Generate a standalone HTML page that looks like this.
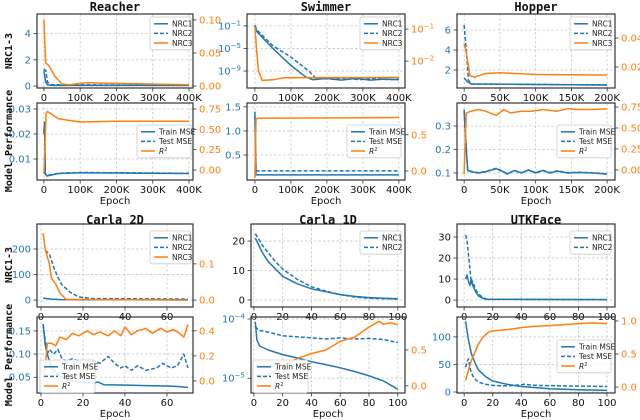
<!DOCTYPE html>
<html><head><meta charset="utf-8"><style>
html,body{margin:0;padding:0;background:#fff;}
svg{display:block;font-family:"DejaVu Sans","Liberation Sans",sans-serif;}
</style></head><body>
<svg id="fig" width="640" height="420" viewBox="0 0 640 420" xmlns="http://www.w3.org/2000/svg"></svg>
<script>
// ---------- DATA ----------
const K = 1000;
// Reacher NRC
const reacherNrc1X=[0,2*K,5*K,10*K,20*K,400*K], reacherNrc1Y=[1.2,0.8,0.3,0.1,0.05,0.05];
const reacherNrc2X=[0,5*K,10*K,20*K,400*K], reacherNrc2Y=[1.3,1.2,0.3,0.1,0.05];
const reacherNrc3X=[0,3*K,5*K,15*K,30*K,50*K,70*K,100*K,120*K,200*K,400*K], reacherNrc3Y=[0.1,0.06,0.035,0.03,0.015,0.003,0.002,0.004,0.005,0.004,0.002];
// Reacher performance
const reacherTrainX=[0,2*K,4*K,8*K,40*K,100*K,400*K], reacherTrainY=[0.02,0.024,0.004,0.0032,0.0042,0.0045,0.0042];
const reacherTestX=[0,2*K,4*K,8*K,40*K,100*K,400*K], reacherTestY=[0.021,0.025,0.0042,0.0034,0.0043,0.0046,0.0043];
const reacherR2X=[0,3*K,6*K,10*K,40*K,100*K,200*K,400*K], reacherR2Y=[-0.05,0.3,0.7,0.72,0.63,0.59,0.6,0.6];
// Swimmer NRC
const swimNrc1X=[0,5*K,50*K,100*K,140*K,160*K,200*K,240*K,280*K,320*K,360*K,400*K], swimNrc1Y=[1e-1,1e-2,1e-5,1e-8,1e-10,3e-11,5e-11,2.5e-11,5e-11,2.5e-11,4e-11,3e-11];
const swimNrc2X=[0,5*K,50*K,100*K,150*K,170*K,210*K,250*K,290*K,330*K,370*K,400*K], swimNrc2Y=[1.3e-1,2e-2,3e-5,3e-7,1e-9,5e-11,4e-11,6e-11,3e-11,5e-11,3e-11,4e-11];
const swimNrc3X=[0,5*K,10*K,20*K,50*K,80*K,400*K], swimNrc3Y=[0.12,0.02,0.005,0.0025,0.0026,0.003,0.0031];
// Swimmer performance
const swimTrainX=[0,3*K,400*K], swimTrainY=[1.4,0.085,0.085];
const swimTestX=[0,3*K,400*K], swimTestY=[1.3,0.17,0.17];
const swimR2X=[0,3*K,10*K,400*K], swimR2Y=[-0.1,0.72,0.73,0.74];
// Hopper NRC
const hopNrc1X=[0,5*K,10*K,200*K], hopNrc1Y=[1.2,0.8,0.6,0.5];
const hopNrc2X=[0,3*K,6*K,10*K,200*K], hopNrc2Y=[6.5,4,1,0.6,0.5];
const hopNrc3X=[0,3*K,8*K,15*K,30*K,50*K,100*K,200*K], hopNrc3Y=[0.036,0.03,0.014,0.013,0.0155,0.016,0.0148,0.0145];
// Hopper performance
const hopTrainX=[0,3*K,5*K,10*K,20*K,30*K,45*K,55*K,60*K,70*K,80*K,90*K,100*K,110*K,120*K,130*K,145*K,160*K,180*K,200*K];
const hopTrainY=[0.37,0.2,0.11,0.105,0.1,0.105,0.118,0.105,0.095,0.11,0.1,0.112,0.1,0.11,0.1,0.108,0.1,0.102,0.1,0.095];
const hopTestX=[0,3*K,5*K,10*K,20*K,30*K,45*K,55*K,60*K,70*K,80*K,90*K,100*K,110*K,120*K,130*K,145*K,160*K,180*K,200*K];
const hopTestY=[0.36,0.2,0.112,0.106,0.101,0.106,0.12,0.106,0.096,0.111,0.101,0.113,0.101,0.111,0.101,0.109,0.101,0.103,0.101,0.096];
const hopR2X=[0,3*K,10*K,20*K,30*K,45*K,55*K,65*K,80*K,95*K,110*K,130*K,145*K,160*K,180*K,200*K];
const hopR2Y=[-0.05,0.68,0.7,0.72,0.7,0.65,0.72,0.68,0.7,0.7,0.72,0.7,0.73,0.72,0.72,0.73];
// Carla 2D NRC
const c2Nrc1X=[1,5,10,70], c2Nrc1Y=[8,4,2,1];
const c2Nrc2X=[2,4,6,8,10,14,18,25,70], c2Nrc2Y=[195,180,130,90,60,30,12,6,4];
const c2Nrc3X=[1,2,4,5,7,9,12,70], c2Nrc3Y=[0.185,0.14,0.1,0.06,0.045,0.02,0.002,0.0];
// Carla 2D performance
const c2TrainX=[1,2,3,5,8,12,18,25,27,30,40,50,60,65,70], c2TrainY=[0.165,0.12,0.1,0.07,0.055,0.045,0.04,0.037,0.04,0.034,0.033,0.032,0.031,0.03,0.028];
const c2TestX=[1,2,3,4,6,8,10,12,15,18,20,25,28,32,35,38,40,43,46,50,55,58,62,65,68,70];
const c2TestY=[0.165,0.13,0.1,0.11,0.1,0.11,0.09,0.085,0.09,0.085,0.08,0.085,0.08,0.095,0.08,0.07,0.075,0.065,0.075,0.065,0.07,0.08,0.07,0.075,0.1,0.07];
const c2R2X=[1,2,3,5,7,9,12,15,18,22,25,28,32,35,38,40,43,46,50,53,57,60,63,66,68,70];
const c2R2Y=[0.0,0.1,0.3,0.3,0.28,0.35,0.33,0.38,0.36,0.4,0.37,0.39,0.36,0.4,0.36,0.43,0.37,0.4,0.42,0.38,0.42,0.39,0.41,0.38,0.35,0.45];
// Carla 1D NRC
const c1Nrc1X=[1,3,6,10,15,20,30,40,50,60,70,80,100], c1Nrc1Y=[21,19,16,13,10.5,8,5.5,3.8,2.8,1.8,1.2,0.8,0.4];
const c1Nrc2X=[1,3,6,10,15,20,30,40,50,60,70,80,100], c1Nrc2Y=[22.5,21,18.5,16,13,10.5,7,4.5,3,1.8,1.0,0.6,0.3];
// Carla 1D performance
const c1TrainX=[1,2,4,10,20,30,40,50,60,70,80,90,100], c1TrainY=[9e-5,4.5e-5,3.5e-5,3e-5,2.5e-5,2.2e-5,1.9e-5,1.7e-5,1.5e-5,1.3e-5,1.1e-5,9e-6,6.5e-6];
const c1TestX=[1,3,10,20,30,40,50,60,70,80,90,100], c1TestY=[7.5e-5,6.5e-5,6e-5,5.2e-5,5e-5,4.8e-5,4.6e-5,4.8e-5,4.6e-5,4.7e-5,4.5e-5,4e-5];
const c1R2X=[1,5,10,20,30,40,50,60,70,80,87,90,95,100], c1R2Y=[-0.02,0.1,0.15,0.28,0.38,0.45,0.5,0.62,0.68,0.82,0.9,0.86,0.88,0.85];
// UTKFace NRC
const utkNrc1X=[1,2,3,4,5,6,8,10,13,16,100], utkNrc1Y=[10,12,9,7,10,7,4,2,0.8,0.3,0.2];
const utkNrc2X=[1,2,3,4,5,6,8,10,13,16,100], utkNrc2Y=[31,28,22,15,8,9,5,3,1.2,0.4,0.2];
// UTKFace performance
const utkTrainX=[1,3,5,8,10,15,20,30,40,60,80,100], utkTrainY=[128,95,70,50,40,28,20,14,10,6,4,3];
const utkTestX=[1,2,3,4,5,7,10,15,20,30,40,42,50,70,100], utkTestY=[45,55,60,45,35,25,18,14,12,11,13,14,12,11,10];
const utkR2X=[1,3,5,8,10,13,17,20,30,40,50,60,80,90,100], utkR2Y=[0.1,0.25,0.4,0.55,0.65,0.75,0.83,0.85,0.87,0.9,0.92,0.93,0.96,0.97,0.96];

// Tick arrays
const xTicks400K=[0,100*K,200*K,300*K,400*K], xLabels400K=["0","100K","200K","300K","400K"];
const xTicks200K=[0,50*K,100*K,150*K,200*K], xLabels200K=["0","50K","100K","150K","200K"];
const xTicks70=[0,20,40,60], xLabels70=["0","20","40","60"];
const xTicks100=[0,20,40,60,80,100], xLabels100=["0","20","40","60","80","100"];

// ---------- RENDER ----------
const BLUE="#1f77b4", ORANGE="#ff7f0e";
const NS="http://www.w3.org/2000/svg";
const svg=document.getElementById('fig');
function el(tag,attrs,parent){const e=document.createElementNS(NS,tag);for(const k in attrs)e.setAttribute(k,attrs[k]);(parent||svg).appendChild(e);return e;}
function mkScale(lim,p0,p1,log){const f=log?Math.log10:(v=>v);const a=f(lim[0]),b=f(lim[1]);return v=>p0+(f(v)-a)/(b-a)*(p1-p0);}
function setLabel(t,lab){ // lab may be string or [base,exp]
  if(Array.isArray(lab)){t.textContent=lab[0];const s=el('tspan',{'font-size':'7','dy':'-4'},t);s.textContent=lab[1];}
  else t.textContent=lab;
}
function drawPanel(p){
  const g=el('g',{});
  
  
  const sx=mkScale(p.xlim,p.x0,p.x1,false);
  const syL=mkScale(p.left.lim,p.y1,p.y0,p.left.log);
  const syR=p.right?mkScale(p.right.lim,p.y1,p.y0,p.right.log):null;
  // grid
  p.xticks.forEach(v=>{const X=sx(v);el('line',{x1:X,x2:X,y1:p.y0,y2:p.y1,stroke:'#c8c8c8','stroke-width':0.8,'stroke-dasharray':'2.5,2'},g);});
  p.left.ticks.forEach(v=>{const Y=syL(v);el('line',{x1:p.x0,x2:p.x1,y1:Y,y2:Y,stroke:'#c8c8c8','stroke-width':0.8,'stroke-dasharray':'2.5,2'},g);});
  // series
  p.series.forEach(s=>{
    const sy=s.axis==='r'?syR:syL;
    const pts=s.x.map((xv,i)=>sx(xv).toFixed(1)+','+sy(s.y[i]).toFixed(1)).join(' ');
    const l=el('polyline',{points:pts,fill:'none',stroke:s.color,'stroke-width':1.5,'stroke-linejoin':'round','clip-path':'url(#clip-'+p.id+')'},g);
    if(s.dash)l.setAttribute('stroke-dasharray','4,2');
    
    
  });
  const cp=el('clipPath',{id:'clip-'+p.id},g);el('rect',{x:p.x0,y:p.y0,width:p.x1-p.x0,height:p.y1-p.y0},cp);
  // frame
  const fr=el('rect',{x:p.x0,y:p.y0,width:p.x1-p.x0,height:p.y1-p.y0,fill:'none',stroke:'#333','stroke-width':1.2},g);
  
  
  // x ticks
  p.xticks.forEach((v,i)=>{const X=sx(v);el('line',{x1:X,x2:X,y1:p.y1,y2:p.y1+3.5,stroke:'#333','stroke-width':0.8},g);
    const t=el('text',{x:X,y:p.y1+13,'font-size':'10','text-anchor':'middle',fill:'#111'},g);t.textContent=p.xlabels[i];
    
    });
  // left ticks
  p.left.ticks.forEach((v,i)=>{const Y=syL(v);el('line',{x1:p.x0-3.5,x2:p.x0,y1:Y,y2:Y,stroke:'#333','stroke-width':0.8},g);
    const t=el('text',{x:p.x0-6,y:Y+3.5,'font-size':'10','text-anchor':'end',fill:p.left.color},g);setLabel(t,p.left.labels[i]);
    
    });
  if(p.right){p.right.ticks.forEach((v,i)=>{const Y=syR(v);el('line',{x1:p.x1,x2:p.x1+3.5,y1:Y,y2:Y,stroke:'#333','stroke-width':0.8},g);
    const t=el('text',{x:p.x1+6,y:Y+3.5,'font-size':'10','text-anchor':'start',fill:ORANGE},g);setLabel(t,p.right.labels[i]);
    
    });}
  // legend
  if(p.legend){const L=p.legend;const n=L.items.length;const h=n*9.6+4;
    const lg=el('g',{},g);
    
    
    el('rect',{x:L.x,y:L.y,width:L.w,height:h,rx:2,fill:'#fff','fill-opacity':0.85,stroke:'#ccc','stroke-width':0.8},lg);
    L.items.forEach((it,i)=>{const Y=L.y+6.8+i*9.6;
      const ln=el('line',{x1:L.x+4,x2:L.x+18,y1:Y,y2:Y,stroke:it.color,'stroke-width':1.5},lg);if(it.dash)ln.setAttribute('stroke-dasharray','4,2');
      const t=el('text',{x:L.x+22,y:Y+2.8,'font-size':'7.5',fill:'#222'},lg);
      if(it.label==='R2'){const a=el('tspan',{'font-style':'italic'},t);a.textContent='R';const b=el('tspan',{'font-size':'5','dy':'-3'},t);b.textContent='2';}
      else t.textContent=it.label;
      
      });}
}
const nrcLeg3=[{label:'NRC1',color:BLUE},{label:'NRC2',color:BLUE,dash:1},{label:'NRC3',color:ORANGE}];
const nrcLeg2=[{label:'NRC1',color:BLUE},{label:'NRC2',color:BLUE,dash:1}];
const perfLeg=[{label:'Train MSE',color:BLUE},{label:'Test MSE',color:BLUE,dash:1},{label:'R2',color:ORANGE}];
function S(name,x,y,color,dash,axis){return {name,x,y,color,dash,axis};}
const R1=[14,88],R2=[103,180],R3=[224,307],R4=[317,393];
const C1=[37,193],C2=[247,405],C3=[457,615],C2b=[251,405];
const panels=[
 {id:'p1',name:'reacher-nrc-panel',x0:C1[0],x1:C1[1],y0:R1[0],y1:R1[1],xlim:[-19*K,411*K],xticks:xTicks400K,xlabels:xLabels400K,
  left:{lim:[-0.15,5.5],ticks:[0,2,4],labels:["0","2","4"],color:BLUE},right:{lim:[-0.003,0.109],ticks:[0,0.05,0.1],labels:["0.00","0.05","0.10"]},
  series:[S('reacher-nrc1',reacherNrc1X,reacherNrc1Y,BLUE),S('reacher-nrc2',reacherNrc2X,reacherNrc2Y,BLUE,1),S('reacher-nrc3',reacherNrc3X,reacherNrc3Y,ORANGE,0,'r')],
  legend:{x:150,y:17,w:41,items:nrcLeg3}},
 {id:'p2',name:'reacher-perf-panel',x0:C1[0],x1:C1[1],y0:R2[0],y1:R2[1],xlim:[-19*K,411*K],xticks:xTicks400K,xlabels:xLabels400K,
  left:{lim:[0.0016,0.0324],ticks:[0.01,0.02,0.03],labels:["0.01","0.02","0.03"],color:BLUE},right:{lim:[-0.123,0.824],ticks:[0,0.25,0.5,0.75],labels:["0.00","0.25","0.50","0.75"]},
  series:[S('reacher-train-mse',reacherTrainX,reacherTrainY,BLUE),S('reacher-test-mse',reacherTestX,reacherTestY,BLUE,1),S('reacher-r2',reacherR2X,reacherR2Y,ORANGE,0,'r')],
  legend:{x:137,y:125,w:54,items:perfLeg}},
 {id:'p3',name:'swimmer-nrc-panel',x0:C2[0],x1:C2[1],y0:R1[0],y1:R1[1],xlim:[-22*K,417*K],xticks:xTicks400K,xlabels:xLabels400K,
  left:{lim:[1e-12,Math.pow(10,1.1)],log:1,ticks:[1e-9,1e-5,1e-1],labels:[["10","−9"],["10","−5"],["10","−1"]],color:BLUE},right:{lim:[Math.pow(10,-2.84),Math.pow(10,-0.53)],log:1,ticks:[1e-2,1e-1],labels:[["10","−2"],["10","−1"]]},
  series:[S('swimmer-nrc1',swimNrc1X,swimNrc1Y,BLUE),S('swimmer-nrc2',swimNrc2X,swimNrc2Y,BLUE,1),S('swimmer-nrc3',swimNrc3X,swimNrc3Y,ORANGE,0,'r')],
  legend:{x:360,y:17,w:41,items:nrcLeg3}},
 {id:'p4',name:'swimmer-perf-panel',x0:C2[0],x1:C2[1],y0:R2[0],y1:R2[1],xlim:[-22*K,417*K],xticks:xTicks400K,xlabels:xLabels400K,
  left:{lim:[-0.02,1.58],ticks:[0.5,1.0,1.5],labels:["0.5","1.0","1.5"],color:BLUE},right:{lim:[-0.125,0.94],ticks:[0,0.5],labels:["0.0","0.5"]},
  series:[S('swimmer-train-mse',swimTrainX,swimTrainY,BLUE),S('swimmer-test-mse',swimTestX,swimTestY,BLUE,1),S('swimmer-r2',swimR2X,swimR2Y,ORANGE,0,'r')],
  legend:{x:347,y:125,w:54,items:perfLeg}},
 {id:'p5',name:'hopper-nrc-panel',x0:C3[0],x1:C3[1],y0:R1[0],y1:R1[1],xlim:[-10*K,211*K],xticks:xTicks200K,xlabels:xLabels200K,
  left:{lim:[0.2,7.6],ticks:[2,4,6],labels:["2","4","6"],color:BLUE},right:{lim:[0.0055,0.0566],ticks:[0.02,0.04],labels:["0.02","0.04"]},
  series:[S('hopper-nrc1',hopNrc1X,hopNrc1Y,BLUE),S('hopper-nrc2',hopNrc2X,hopNrc2Y,BLUE,1),S('hopper-nrc3',hopNrc3X,hopNrc3Y,ORANGE,0,'r')],
  legend:{x:570,y:17,w:41,items:nrcLeg3}},
 {id:'p6',name:'hopper-perf-panel',x0:C3[0],x1:C3[1],y0:R2[0],y1:R2[1],xlim:[-10*K,211*K],xticks:xTicks200K,xlabels:xLabels200K,
  left:{lim:[0.07,0.398],ticks:[0.1,0.2,0.3],labels:["0.1","0.2","0.3"],color:BLUE},right:{lim:[-0.12,0.798],ticks:[0,0.25,0.5,0.75],labels:["0.00","0.25","0.50","0.75"]},
  series:[S('hopper-train-mse',hopTrainX,hopTrainY,BLUE),S('hopper-test-mse',hopTestX,hopTestY,BLUE,1),S('hopper-r2',hopR2X,hopR2Y,ORANGE,0,'r')],
  legend:{x:557,y:125,w:54,items:perfLeg}},
 {id:'p7',name:'carla2d-nrc-panel',x0:C1[0],x1:C1[1],y0:R3[0],y1:R3[1],xlim:[-1.9,72.4],xticks:xTicks70,xlabels:xLabels70,
  left:{lim:[-27,298],ticks:[0,100,200],labels:["0","100","200"],color:BLUE},right:{lim:[-0.019,0.21],ticks:[0,0.1],labels:["0.0","0.1"]},
  series:[S('carla2d-nrc1',c2Nrc1X,c2Nrc1Y,BLUE),S('carla2d-nrc2',c2Nrc2X,c2Nrc2Y,BLUE,1),S('carla2d-nrc3',c2Nrc3X,c2Nrc3Y,ORANGE,0,'r')],
  legend:{x:150,y:231,w:41,items:nrcLeg3}},
 {id:'p8',name:'carla2d-perf-panel',x0:C1[0],x1:C1[1],y0:R4[0],y1:R4[1],xlim:[-1.9,72.4],xticks:xTicks70,xlabels:xLabels70,
  left:{lim:[0.016,0.18],ticks:[0.05,0.1,0.15],labels:["0.05","0.10","0.15"],color:BLUE},right:{lim:[-0.096,0.51],ticks:[0,0.2,0.4],labels:["0.0","0.2","0.4"]},
  series:[S('carla2d-train-mse',c2TrainX,c2TrainY,BLUE),S('carla2d-test-mse',c2TestX,c2TestY,BLUE,1),S('carla2d-r2',c2R2X,c2R2Y,ORANGE,0,'r')],
  legend:{x:40,y:360,w:55,items:perfLeg}},
 {id:'p9',name:'carla1d-nrc-panel',x0:C2b[0],x1:C2b[1],y0:R3[0],y1:R3[1],xlim:[-2,105],xticks:xTicks100,xlabels:xLabels100,
  left:{lim:[-2.4,25.8],ticks:[0,10,20],labels:["0","10","20"],color:'#111'},
  series:[S('carla1d-nrc1',c1Nrc1X,c1Nrc1Y,BLUE),S('carla1d-nrc2',c1Nrc2X,c1Nrc2Y,BLUE,1)],
  legend:{x:360,y:231,w:41,items:nrcLeg2}},
 {id:'p10',name:'carla1d-perf-panel',x0:C2b[0],x1:C2b[1],y0:R4[0],y1:R4[1],xlim:[-2,105],xticks:xTicks100,xlabels:xLabels100,
  left:{lim:[Math.pow(10,-5.25),Math.pow(10,-3.966)],log:1,ticks:[1e-5,1e-4],labels:[["10","−5"],["10","−4"]],color:BLUE},right:{lim:[-0.1,0.96],ticks:[0,0.5],labels:["0.0","0.5"]},
  series:[S('carla1d-train-mse',c1TrainX,c1TrainY,BLUE),S('carla1d-test-mse',c1TestX,c1TestY,BLUE,1),S('carla1d-r2',c1R2X,c1R2Y,ORANGE,0,'r')],
  legend:{x:253,y:360,w:55,items:perfLeg}},
 {id:'p11',name:'utkface-nrc-panel',x0:C3[0],x1:C3[1],y0:R3[0],y1:R3[1],xlim:[-5,105.6],xticks:xTicks100,xlabels:xLabels100,
  left:{lim:[-3.3,36.2],ticks:[0,10,20,30],labels:["0","10","20","30"],color:'#111'},
  series:[S('utkface-nrc1',utkNrc1X,utkNrc1Y,BLUE),S('utkface-nrc2',utkNrc2X,utkNrc2Y,BLUE,1)],
  legend:{x:570,y:231,w:41,items:nrcLeg2}},
 {id:'p12',name:'utkface-perf-panel',x0:C3[0],x1:C3[1],y0:R4[0],y1:R4[1],xlim:[-5,105.6],xticks:xTicks100,xlabels:xLabels100,
  left:{lim:[-1.8,136],ticks:[0,50,100],labels:["0","50","100"],color:BLUE},right:{lim:[-0.09,1.06],ticks:[0,0.5,1.0],labels:["0.0","0.5","1.0"]},
  series:[S('utkface-train-mse',utkTrainX,utkTrainY,BLUE),S('utkface-test-mse',utkTestX,utkTestY,BLUE,1),S('utkface-r2',utkR2X,utkR2Y,ORANGE,0,'r')],
  legend:{x:557,y:340,w:54,items:perfLeg}}
];
panels.forEach(drawPanel);
// titles
const titles=[["Reacher",115,11],["Swimmer",326,11],["Hopper",536,11],["Carla 2D",115,224],["Carla 1D",328,224],["UTKFace",536,224]];
titles.forEach(tt=>{const t=el('text',{x:tt[1],y:tt[2],'font-size':'12','font-weight':'bold','text-anchor':'middle','font-family':'"DejaVu Sans Mono","Liberation Mono",monospace',fill:'#111'});t.textContent=tt[0];
  
  });
// y labels
const ylabs=[["NRC1-3",51],["Model Performance",141],["NRC1-3",265],["Model Performance",355]];
ylabs.forEach(yl=>{const t=el('text',{x:0,y:0,transform:'translate(12,'+yl[1]+') rotate(-90)','font-size':'10','font-weight':'bold','text-anchor':'middle','font-family':'"DejaVu Sans Mono","Liberation Mono",monospace',fill:'#111'});t.textContent=yl[0];
  
  });
// x labels
const xlabs=[[115,204],[326,204],[536,204],[115,417],[328,417],[536,417]];
xlabs.forEach(xl=>{const t=el('text',{x:xl[0],y:xl[1],'font-size':'10','text-anchor':'middle',fill:'#111'});t.textContent='Epoch';
  
  });
</script>
</body></html>
